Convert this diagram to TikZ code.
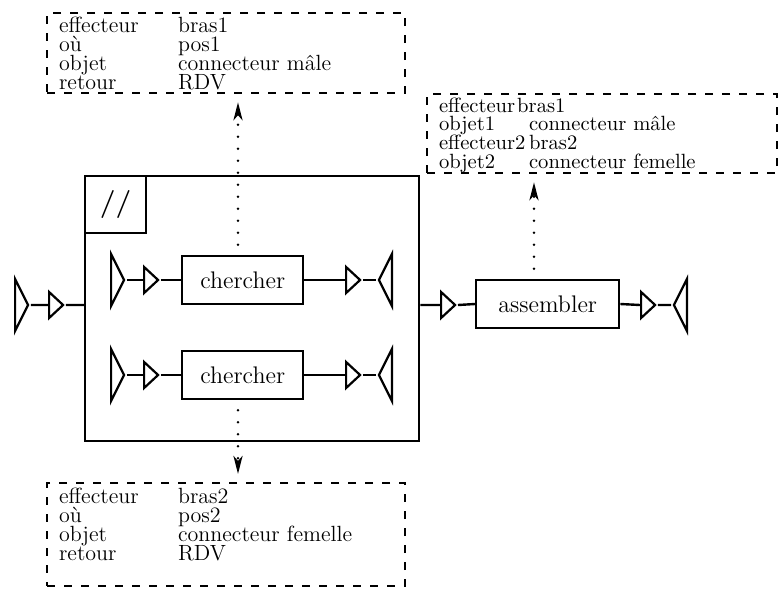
\documentclass[tikz,border=0pt]{standalone}
\usepackage{fontspec}
\usetikzlibrary{shapes.geometric,arrows.meta}
\newcommand\paramcell[2]{\makebox[#1][l]{#2}}
\begin{document}
\begin{tikzpicture}[x=0.5pt,y=-0.5pt]
\tikzset{
  wire/.style={line width=1.2pt},
  procbox/.style={draw, line width=1.2pt, minimum width=60.5pt, minimum height=24pt,
    inner sep=0pt, font=\fontsize{12}{12}\selectfont},
  bigport/.style={isosceles triangle, isosceles triangle stretches, draw, line width=1.1pt,
    inner sep=0pt, minimum width=26pt, minimum height=6.5pt},
  smallport/.style={isosceles triangle, isosceles triangle stretches, draw, line width=1.1pt,
    inner sep=0pt, minimum width=13pt, minimum height=7pt},
  infobox/.style={draw, line width=1.1pt, dash pattern=on 4pt off 4.5pt,
    inner xsep=6pt, inner ysep=0pt, anchor=north west},
  link/.style={line width=1.4pt, dash pattern=on 0pt off 6pt, line cap=round,
    shorten <=5pt, shorten >=4pt,
    -{Stealth[length=9pt, width=4.5pt, inset=2.5pt]}}
}
\useasboundingbox (0,0) rectangle (778,590);

% external input port
\node[bigport, anchor=west] (in0) at (14,305) {};
\node[smallport, anchor=west] (in1) at (48,305) {};

% parallel block
\node[draw, line width=1.2pt, minimum width=167pt, minimum height=132.5pt,
      inner sep=0pt, anchor=north west] (par) at (84,175) {};
\node[draw, line width=1.2pt, minimum width=30.5pt, minimum height=28.5pt,
      inner sep=0pt, anchor=north west, font=\fontsize{14}{14}\selectfont\bfseries] (mark) at (par.north west) {//};

% two parallel branches
\foreach \r/\y in {1/280, 2/375} {
  \node[bigport, anchor=west] (a\r) at (110,\y) {};
  \node[smallport, anchor=west] (b\r) at (143,\y) {};
  \node[procbox, anchor=west] (c\r) at (181,\y) {chercher};
  \node[smallport, anchor=west] (d\r) at (345,\y) {};
  \node[bigport, shape border rotate=180, anchor=east] (e\r) at (393,\y) {};
  \draw[wire] (a\r.east) -- (b\r.west) (b\r.east) -- (c\r.west)
              (c\r.east) -- (d\r.west) (d\r.east) -- (e\r.west);
}

% output chain
\node[smallport, anchor=west] (o1) at (440,305) {};
\node[procbox, anchor=west, minimum width=71.5pt] (asm) at (475,304) {assembler};
\node[smallport, anchor=west] (o2) at (640,305) {};
\node[bigport, shape border rotate=180, anchor=east] (o3) at (688,305) {};

\draw[wire] (in0.east) -- (in1.west) (in1.east) -- (in1.east -| par.west)
            (o1.west -| par.east) -- (o1.west) (o1.east) -- (asm.west)
            (asm.east) -- (o2.west) (o2.east) -- (o3.west);

% parameter boxes
\node[infobox] (i1) at (46,12) {%
  \parbox[c][40pt][t]{167pt}{\fontsize{11}{9.5}\selectfont\lineskiplimit=-100pt
  \vspace*{1.5pt}\rule{0pt}{8pt}\paramcell{59.5pt}{effecteur}bras1\\
  \paramcell{59.5pt}{où}pos1\\
  \paramcell{59.5pt}{objet}connecteur mâle\\
  \paramcell{59.5pt}{retour}RDV}};
\node[infobox] (i2) at (426,93) {%
  \parbox[c][39.5pt][t]{163pt}{\fontsize{10.3}{9.4}\selectfont\lineskiplimit=-100pt
  \vspace*{1pt}\rule{0pt}{8pt}effecteur\hspace{1pt}bras1\\
  \paramcell{45pt}{objet1}connecteur mâle\\
  \paramcell{45pt}{effecteur2}bras2\\
  \paramcell{45pt}{objet2}connecteur femelle}};
\node[infobox] (i3) at (46,482) {%
  \parbox[c][51.5pt][t]{167pt}{\fontsize{11}{9.5}\selectfont\lineskiplimit=-100pt
  \vspace*{2pt}\rule{0pt}{8pt}\paramcell{59.5pt}{effecteur}bras2\\
  \paramcell{59.5pt}{où}pos2\\
  \paramcell{59.5pt}{objet}connecteur femelle\\
  \paramcell{59.5pt}{retour}RDV}};

% parameter links
\coordinate (ax) at (238,0);
\coordinate (bx) at (534,0);
\draw[link] (ax |- c1.north) -- (ax |- i1.south);
\draw[link] (ax |- c2.south) -- (ax |- i3.north);
\draw[link] (bx |- asm.north) -- (bx |- i2.south);
\end{tikzpicture}
\end{document}
